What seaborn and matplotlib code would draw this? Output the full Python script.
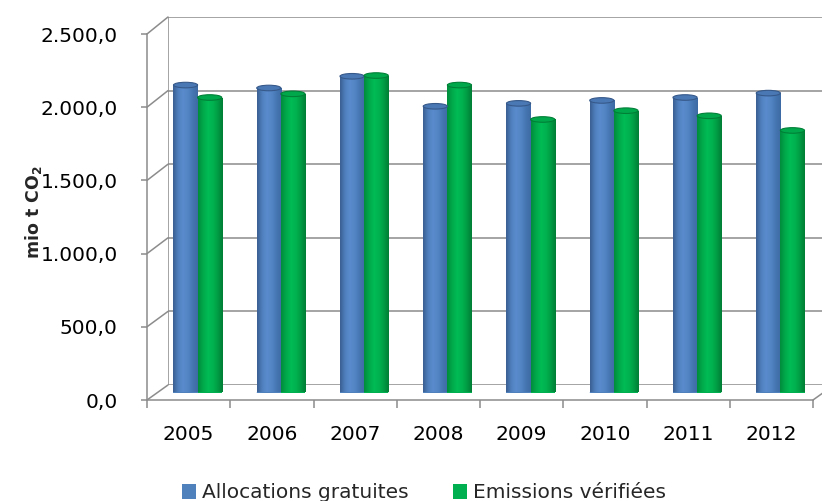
import numpy as np
import pandas as pd
import matplotlib
matplotlib.use("Agg")
import matplotlib.pyplot as plt
from matplotlib.colors import LinearSegmentedColormap
from matplotlib.patches import Ellipse, Patch, ConnectionPatch
import seaborn as sns

# ---- data (Mt CO2) ----
years = ["2005", "2006", "2007", "2008", "2009", "2010", "2011", "2012"]
allocations = [2100, 2080, 2160, 1955, 1975, 1995, 2015, 2045]
emissions = [2015, 2040, 2165, 2100, 1865, 1925, 1890, 1790]
series_names = ["Allocations gratuites", "Emissions vérifiées"]
y_ticks = [0, 500, 1000, 1500, 2000, 2500]
y_tick_labels = ["0,0", "500,0", "1.000,0", "1.500,0", "2.000,0", "2.500,0"]

df = pd.DataFrame({
    "year": years * 2,
    "series": [series_names[0]] * len(years) + [series_names[1]] * len(years),
    "value": allocations + emissions,
})

BLUE = "#4f81bd"
GREEN = "#00b050"
GRID = "#8c8c8c"
FONT = ["DejaVu Sans"]
FS = 14.5

sns.set_theme(style="white")
plt.rcParams["font.family"] = FONT
plt.rcParams["mathtext.default"] = "regular"

W, H = 822, 501
fig = plt.figure(figsize=(W / 100, H / 100), dpi=100)


def frame(left_px, zero_px, top_px, right_px):
    return [left_px / W, (H - zero_px) / H, (right_px - left_px) / W, (zero_px - top_px) / H]


# front plane (axis labels), back wall (gridlines), middle depth (cylinders)
ax_back = fig.add_axes(frame(168, 385, 17, 834))
ax_bars = fig.add_axes(frame(156, 392.5, 26.5, 822))
ax_front = fig.add_axes(frame(147, 400, 34, 813))

n = len(years)
for ax in (ax_back, ax_bars, ax_front):
    ax.set_xlim(-0.5, n - 0.5)
    ax.set_ylim(0, 2500)
    ax.patch.set_alpha(0)
    for s in ax.spines.values():
        s.set_visible(False)

# back wall gridlines and edge
ax_back.set_xticks([])
ax_back.set_yticks([])
for v in y_ticks:
    ax_back.axhline(v, color=GRID, lw=1.1, zorder=0)
ax_back.axvline(-0.5, color=GRID, lw=1.1, zorder=0)

# front plane: left axis line, floor edge, ticks and labels
ax_front.spines["left"].set_visible(True)
ax_front.spines["bottom"].set_visible(True)
for s in ("left", "bottom"):
    ax_front.spines[s].set_color(GRID)
    ax_front.spines[s].set_linewidth(1.1)
ax_front.set_yticks(y_ticks)
ax_front.set_yticklabels(y_tick_labels)
ax_front.set_xticks(np.arange(n))
ax_front.set_xticklabels(years)
ax_front.set_xticks(np.arange(n + 1) - 0.5, minor=True)
ax_front.tick_params(axis="y", which="major", left=True, length=4, width=1.1,
                     color=GRID, labelsize=FS, labelcolor="black", pad=17)
ax_front.tick_params(axis="x", which="major", bottom=False, labelsize=FS,
                     labelcolor="black", pad=12)
ax_front.tick_params(axis="x", which="minor", bottom=True, length=6, width=1.1,
                     color=GRID)
ax_front.set_ylabel(r"mio t CO$_\mathbf{2}$", fontsize=12.5, fontweight="bold")
ax_front.yaxis.set_label_coords((34 - 147) / 666, (400 - 212) / 366)
ax_front.yaxis.label.set_va("center")

# side wall and floor perspective edges
for v in y_ticks:
    fig.add_artist(ConnectionPatch(xyA=(-0.5, v), coordsA=ax_front.transData,
                                   xyB=(-0.5, v), coordsB=ax_back.transData,
                                   color=GRID, lw=1.1))
fig.add_artist(ConnectionPatch(xyA=(n - 0.5, 0), coordsA=ax_front.transData,
                               xyB=(n - 0.5, 0), coordsB=ax_back.transData,
                               color=GRID, lw=1.1))

# cylinders
sns.barplot(data=df, x="year", y="value", hue="series", palette=[BLUE, GREEN],
            width=0.58, gap=0, ax=ax_bars, legend=False, saturation=1,
            edgecolor="none")
ax_bars.set_xlim(-0.5, n - 0.5)
ax_bars.set_ylim(0, 2500)
ax_bars.set_axis_off()

shade = {
    BLUE: LinearSegmentedColormap.from_list(
        "b", ["#3a5f92", "#4f7fbd", "#5a8ccd", "#5385c5", "#4676b2", "#3d6aa3"]),
    GREEN: LinearSegmentedColormap.from_list(
        "g", ["#008c3c", "#00a84a", "#00bb55", "#00b350", "#009c44", "#007e36"]),
}
cap_color = {BLUE: "#4a78b4", GREEN: "#00a84b"}
cap_edge = {BLUE: "#36598a", GREEN: "#007f37"}
gradient = np.linspace(0, 1, 64).reshape(1, -1)
cap_h = 38  # ellipse height in data units

for bar in list(ax_bars.patches):
    x0, w, h = bar.get_x(), bar.get_width(), bar.get_height()
    fc = matplotlib.colors.to_hex(bar.get_facecolor())
    key = BLUE if fc.lower() == BLUE else GREEN
    cmap = shade[key]
    # rounded bottom
    bottom = Ellipse((x0 + w / 2, 0), w, cap_h, facecolor=cmap(0.5),
                     edgecolor="none", zorder=2)
    ax_bars.add_patch(bottom)
    im_b = ax_bars.imshow(gradient, cmap=cmap, aspect="auto",
                          extent=(x0, x0 + w, -cap_h, h), zorder=2.5,
                          interpolation="bilinear")
    im_b.set_clip_path(bottom)
    im = ax_bars.imshow(gradient, cmap=cmap, aspect="auto",
                        extent=(x0, x0 + w, -cap_h, h), zorder=3,
                        interpolation="bilinear")
    im.set_clip_path(bar)
    bar.set_zorder(2.8)
    # top cap
    ax_bars.add_patch(Ellipse((x0 + w / 2, h), w, cap_h, facecolor=cap_color[key],
                              edgecolor=cap_edge[key], lw=0.8, zorder=4))

ax_bars.set_xlim(-0.5, n - 0.5)
ax_bars.set_ylim(0, 2500)

# legend
handles = [Patch(facecolor=BLUE, edgecolor="none"),
           Patch(facecolor=GREEN, edgecolor="none")]
fig.legend(handles, series_names, loc="center", bbox_to_anchor=(424 / W, 8 / H),
           ncol=2, frameon=False, fontsize=FS, handlelength=0.7, handleheight=0.7,
           handletextpad=0.3, columnspacing=2.2, borderaxespad=0)

fig.savefig("out.png", dpi=100)
